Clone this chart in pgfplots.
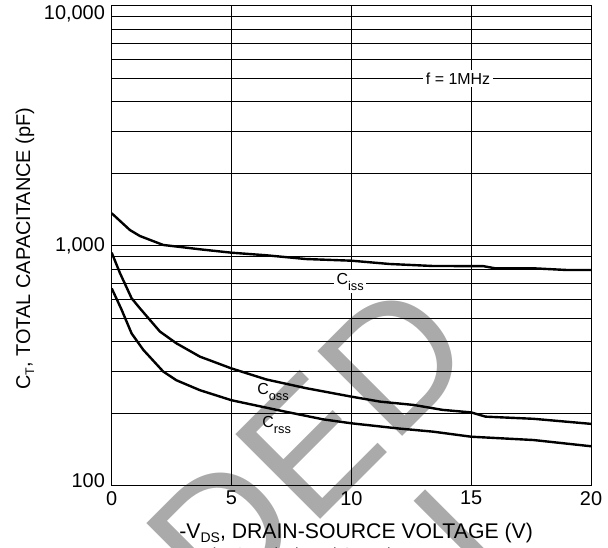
\documentclass[border=0pt]{standalone}
\usepackage{fontspec}
\setmainfont{Liberation Sans}
\usepackage{pgfplots}
\pgfplotsset{compat=1.18}
\definecolor{wm}{RGB}{170,170,170}
\newcommand{\sub}[3][-6bp]{\raisebox{#1}{\fontsize{#2}{#2}\selectfont #3}}

\begin{document}
\begin{tikzpicture}
% watermark (behind the chart)
\node[rotate=45, anchor=base east, inner sep=0pt, text=wm, font=\fontsize{175}{175}\selectfont] at (370bp,128bp) {DED};
\node[rotate=45, anchor=base west, inner sep=0pt, text=wm, font=\fontsize{175}{175}\selectfont] at (376bp,-112bp) {I};
\begin{axis}[
  at={(0,0)}, anchor=south west,
  scale only axis, width=479.3bp, height=480bp,
  ymode=log, xmin=0, xmax=20, ymin=100, ymax=10000,
  xtick={0,5,10,15,20},
  ytick={100,1000,10000},
  yticklabels={{\raisebox{5.5bp}[\height][\depth]{100}},{1,000},{\raisebox{-8bp}[\height][\depth]{10,000}}},
  minor ytick={200,300,400,500,600,700,800,900,2000,3000,4000,5000,6000,7000,8000,9000},
  grid=both,
  major grid style={black, line width=0.7bp},
  minor grid style={black, line width=0.7bp},
  major tick length=0pt, minor tick length=0pt,
  axis line style={black, line width=1bp},
  /pgf/number format/assume math mode=true,
  tick label style={font=\fontsize{20}{20}\selectfont},
  xticklabel style={yshift=-2bp},
  yticklabel style={xshift=-3.3bp},
  xlabel={-V\sub[-4.5bp]{14}{DS}, DRAIN-SOURCE VOLTAGE (V)},
  xlabel style={at={(axis description cs:0.51,-0.109)}, anchor=base, font=\fontsize{21.3}{22}\selectfont},
  ylabel={C\sub[-4bp]{12.5}{T}, TOTAL CAPACITANCE (pF)},
  ylabel style={at={(axis description cs:-0.1809,0.494)}, anchor=center, font=\fontsize{20}{21}\selectfont},
]
% C_iss
\addplot[black, line width=2.4bp, line join=round, no marks] coordinates {(0,1365) (0.76,1162) (1.18,1097) (2.15,1007) (3.68,966) (5,935) (6.46,912) (8.1,880) (10,866) (11.6,839) (13.4,823) (15.5,822) (16,805) (17.6,805) (19,792) (20,792)};
% C_oss
\addplot[black, line width=2.4bp, line join=round, no marks] coordinates {(0,935) (0.35,767) (0.83,604) (1.18,548) (2.01,439) (2.7,392) (3.68,345) (5,308) (6.46,277) (8.1,255) (10,235) (11.2,224) (12.6,217) (13.8,207) (15,202) (15.6,194) (17.6,190) (20,181)};
% C_rss
\addplot[black, line width=2.4bp, line join=round, no marks] coordinates {(0,664) (0.4,545) (0.83,431) (1.32,368) (2.15,299) (2.7,275) (3.68,250) (5,227) (6.88,207) (8.82,189) (10,182) (12,173) (13.4,168) (15,160) (17.6,155) (20,146)};
\node[anchor=base west, fill=white, inner sep=2.5bp, font=\fontsize{16}{16}\selectfont] at (axis cs:9.27,692) {C\sub{12.8}{iss}};
\node[anchor=base west, inner sep=0pt, font=\fontsize{16}{16}\selectfont] at (axis cs:6.07,239) {C\sub{12.8}{oss}};
\node[anchor=base west, inner sep=0pt, font=\fontsize{16}{16}\selectfont] at (axis cs:6.28,174) {C\sub{12.8}{rss}};
\node[anchor=base west, fill=white, inner sep=2.5bp, font=\fontsize{16}{16}\selectfont] at (axis cs:13.0,4705) {f = 1MHz};
\end{axis}
\node[anchor=north west, inner sep=0pt, font=\fontsize{16}{16}\selectfont] at (91.3bp,-61.8bp) {Fig. 9 Typical Total Capacitance};
\pgfresetboundingbox
\path (-111.7bp,-62.3bp) rectangle (496.3bp,485.7bp);
\end{tikzpicture}
\end{document}
